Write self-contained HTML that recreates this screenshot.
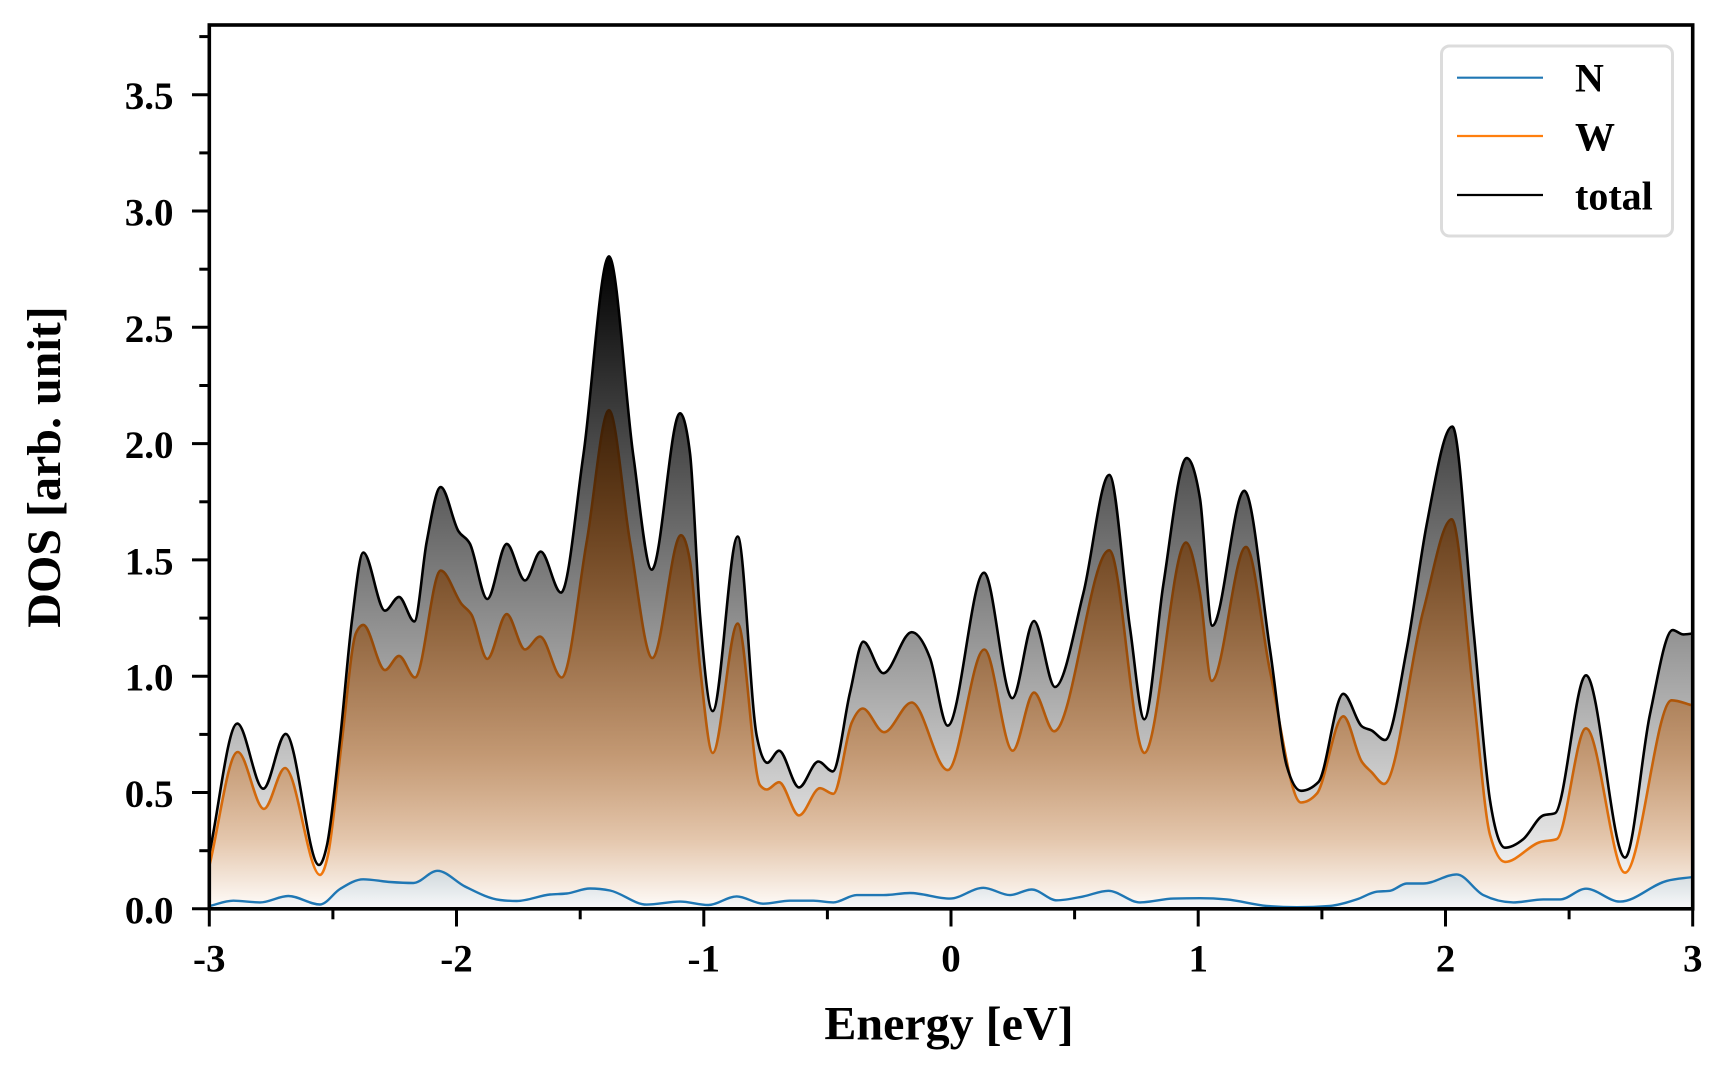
<!DOCTYPE html>
<html><head><meta charset="utf-8">
<style>
html,body{margin:0;padding:0;background:#fff;}
svg{display:block;}
text{font-family:"Liberation Serif","Times New Roman",serif;font-weight:bold;fill:#000;}
</style></head><body>
<svg id="s" width="1728" height="1080" viewBox="0 0 1728 1080" xmlns="http://www.w3.org/2000/svg">
<defs>
 <linearGradient id="gT" gradientUnits="userSpaceOnUse" x1="0" y1="908.8" x2="0" y2="257.5">
  <stop offset="0" stop-color="#000" stop-opacity="0"/>
  <stop offset="1" stop-color="#000" stop-opacity="1"/>
 </linearGradient>
 <linearGradient id="gW" gradientUnits="userSpaceOnUse" x1="0" y1="908.8" x2="0" y2="408.7">
  <stop offset="0" stop-color="#ff7f0e" stop-opacity="0"/>
  <stop offset="0.014" stop-color="#ff7f0e" stop-opacity="0.04"/>
  <stop offset="0.079" stop-color="#ff7f0e" stop-opacity="0.15"/>
  <stop offset="0.14" stop-color="#ff7f0e" stop-opacity="0.26"/>
  <stop offset="0.307" stop-color="#ff7f0e" stop-opacity="0.43"/>
  <stop offset="0.474" stop-color="#ff7f0e" stop-opacity="0.53"/>
  <stop offset="0.647" stop-color="#ff7f0e" stop-opacity="0.66"/>
  <stop offset="0.814" stop-color="#ff7f0e" stop-opacity="0.78"/>
  <stop offset="0.981" stop-color="#ff7f0e" stop-opacity="0.88"/>
  <stop offset="1" stop-color="#ff7f0e" stop-opacity="0.9"/>
 </linearGradient>
 <linearGradient id="gWl" gradientUnits="userSpaceOnUse" x1="0" y1="908.8" x2="0" y2="408.7">
  <stop offset="0" stop-color="#ff7f0e"/>
  <stop offset="1" stop-color="#3b1d03"/>
 </linearGradient>
 <linearGradient id="gN" gradientUnits="userSpaceOnUse" x1="0" y1="908.8" x2="0" y2="870">
  <stop offset="0" stop-color="#f8f9fa"/>
  <stop offset="1" stop-color="#d0d8dc"/>
 </linearGradient>
 <clipPath id="cp"><rect x="209.3" y="25" width="1483.4" height="883.8"/></clipPath>
</defs>

<g clip-path="url(#cp)">
 <path id="fW" fill="url(#gW)" stroke="none"/>
 <path id="fT" fill="url(#gT)" stroke="none"/>
 <path id="fN" fill="url(#gN)" stroke="none"/>
 <path id="lN" fill="none" stroke="#1f77b4" stroke-width="2.4" stroke-linejoin="round"/>
 <path id="lW" fill="none" stroke="url(#gWl)" stroke-width="2.6" stroke-linejoin="round"/>
 <path id="lT" fill="none" stroke="#000" stroke-width="2.6" stroke-linejoin="round"/>
</g>

<!-- axes frame -->
<rect x="209.3" y="25" width="1483.4" height="883.8" fill="none" stroke="#000" stroke-width="3.6"/>

<!-- x ticks -->
<g stroke="#000" stroke-width="3">
 <line x1="209.3" y1="908.8" x2="209.3" y2="926.5"/>
 <line x1="456.5" y1="908.8" x2="456.5" y2="926.5"/>
 <line x1="703.8" y1="908.8" x2="703.8" y2="926.5"/>
 <line x1="951" y1="908.8" x2="951" y2="926.5"/>
 <line x1="1198.2" y1="908.8" x2="1198.2" y2="926.5"/>
 <line x1="1445.5" y1="908.8" x2="1445.5" y2="926.5"/>
 <line x1="1692.7" y1="908.8" x2="1692.7" y2="926.5"/>
 <line x1="332.9" y1="908.8" x2="332.9" y2="919.3"/>
 <line x1="580.2" y1="908.8" x2="580.2" y2="919.3"/>
 <line x1="827.4" y1="908.8" x2="827.4" y2="919.3"/>
 <line x1="1074.6" y1="908.8" x2="1074.6" y2="919.3"/>
 <line x1="1321.9" y1="908.8" x2="1321.9" y2="919.3"/>
 <line x1="1569.1" y1="908.8" x2="1569.1" y2="919.3"/>
</g>
<!-- y ticks -->
<g stroke="#000" stroke-width="3">
 <line x1="192" y1="908.8" x2="209.3" y2="908.8"/>
 <line x1="192" y1="792.5" x2="209.3" y2="792.5"/>
 <line x1="192" y1="676.2" x2="209.3" y2="676.2"/>
 <line x1="192" y1="559.9" x2="209.3" y2="559.9"/>
 <line x1="192" y1="443.6" x2="209.3" y2="443.6"/>
 <line x1="192" y1="327.3" x2="209.3" y2="327.3"/>
 <line x1="192" y1="211" x2="209.3" y2="211"/>
 <line x1="192" y1="94.7" x2="209.3" y2="94.7"/>
 <line x1="199.3" y1="850.7" x2="209.3" y2="850.7"/>
 <line x1="199.3" y1="734.4" x2="209.3" y2="734.4"/>
 <line x1="199.3" y1="618.1" x2="209.3" y2="618.1"/>
 <line x1="199.3" y1="501.8" x2="209.3" y2="501.8"/>
 <line x1="199.3" y1="385.5" x2="209.3" y2="385.5"/>
 <line x1="199.3" y1="269.2" x2="209.3" y2="269.2"/>
 <line x1="199.3" y1="152.9" x2="209.3" y2="152.9"/>
 <line x1="199.3" y1="36.6" x2="209.3" y2="36.6"/>
</g>

<!-- y tick labels -->
<g font-size="39" text-anchor="end">
 <text x="173.5" y="923.3">0.0</text>
 <text x="173.5" y="807">0.5</text>
 <text x="173.5" y="690.7">1.0</text>
 <text x="173.5" y="574.4">1.5</text>
 <text x="173.5" y="458.1">2.0</text>
 <text x="173.5" y="341.8">2.5</text>
 <text x="173.5" y="225.5">3.0</text>
 <text x="173.5" y="109.2">3.5</text>
</g>
<!-- x tick labels -->
<g font-size="39" text-anchor="middle">
 <text x="209.3" y="971.5">-3</text>
 <text x="456.5" y="971.5">-2</text>
 <text x="703.8" y="971.5">-1</text>
 <text x="951" y="971.5">0</text>
 <text x="1198.2" y="971.5">1</text>
 <text x="1445.5" y="971.5">2</text>
 <text x="1692.7" y="971.5">3</text>
</g>

<!-- axis labels -->
<text x="949" y="1039.5" font-size="48" text-anchor="middle">Energy [eV]</text>
<text transform="translate(60,467) rotate(-90)" x="0" y="0" font-size="48" text-anchor="middle">DOS [arb. unit]</text>

<!-- legend -->
<rect x="1441.5" y="46" width="231" height="190" rx="8" ry="8" fill="#fff" fill-opacity="0.85" stroke="#dcdcdc" stroke-width="3"/>
<line x1="1457" y1="77.7" x2="1543" y2="77.7" stroke="#1f77b4" stroke-width="2.2"/>
<line x1="1457" y1="136" x2="1543" y2="136" stroke="#ff7f0e" stroke-width="2.2"/>
<line x1="1457" y1="195" x2="1543" y2="195" stroke="#000" stroke-width="2.2"/>
<g font-size="40">
 <text x="1575" y="91.7">N</text>
 <text x="1575" y="150.5">W</text>
 <text x="1575" y="209.3">total</text>
</g>
</svg>

<script>
(function(){
var T=[[209.3,854],[237.3,723.6],[263.3,788.7],[285.7,733.9],[319,865],[327,845],[340,740],[352,620],[363.3,552.5],[385,610.7],[399,596.9],[414.3,621.4],[426.7,541.7],[440.7,487],[458.3,530.9],[470,543.9],[487.3,599],[506.7,543.9],[525,580.5],[540.7,551.6],[561,592.6],[583.3,455.5],[609,256.4],[633.3,455.5],[651.7,569.7],[680,413.3],[690,453.3],[700,615],[712.7,711.1],[737.7,536.5],[756.7,735.7],[767.3,762.8],[779,750.7],[799,787.4],[818.3,761.5],[832.7,771.4],[850,692.6],[863.3,641.7],[883.3,673.2],[911.7,632.2],[930,658.1],[947.7,725.7],[984,572.7],[1012.3,698.2],[1034,621],[1055,687],[1083.3,593.4],[1109.3,474.9],[1130,627.9],[1144.3,719.3],[1163.3,584.8],[1186.7,458.1],[1200,498.6],[1212.3,625.7],[1244.3,490.8],[1270,649.5],[1286.7,765.8],[1301,790.8],[1318.3,782.2],[1343.3,693.8],[1361.7,726.2],[1371.7,730.5],[1385,740],[1406.7,649.5],[1426.7,524.5],[1452.3,426.6],[1473.3,627.9],[1490,800.3],[1505,847.7],[1523.3,839.1],[1543.3,815.4],[1555,813.2],[1586,675.3],[1625,857.6],[1650,714.1],[1672.7,630.1],[1683.3,634.4],[1692.7,633.5]];
var W=[[209.3,866],[237.7,752],[264,808.9],[285,768],[320,874.9],[328,855],[342,740],[356,633],[363.3,624.9],[385,670.1],[399,655.9],[415,677.5],[440.7,570.6],[461.7,604.2],[471.7,615],[487.3,658.9],[506.7,614.1],[525,649.5],[540,636.5],[561.7,677.5],[586.7,541.7],[609,410.2],[630,541.7],[652.3,658.1],[681,535.2],[690,561.1],[700,666.7],[712.7,752.9],[737.7,623.6],[760,785.2],[766.7,789.5],[779,782.2],[799,815.4],[820,788.2],[833.3,793.8],[851.7,722.7],[862.7,708.5],[884,732.2],[911.7,702.5],[947.7,770.1],[984.3,649.5],[1012.7,750.7],[1034,692.6],[1054,731.3],[1109.3,550.3],[1144.3,752.9],[1186,542.6],[1200,593.4],[1211.7,680.9],[1246,546.9],[1270,671],[1301,802.5],[1316.7,793.8],[1343.3,716.3],[1361.7,761.5],[1371.7,772.3],[1384,783.9],[1423.3,610.7],[1451.7,519.3],[1473.3,692.6],[1490,834.8],[1505,861.9],[1540,842.1],[1556.7,839.1],[1586,728.3],[1625,872.7],[1671.7,700.3],[1692.7,705.5]];
var N=[[209.3,906],[233.3,900.7],[260,902.4],[288.3,896],[320,904.5],[340,889],[363.3,879.3],[390,882],[413.3,883],[437.5,870.8],[465,886.5],[500,900],[516.7,901],[550,894.5],[566.7,893.5],[590,888.5],[610,890.5],[646.7,904.6],[680,901.6],[708.3,905],[736.7,896.4],[763.3,903.7],[790,900.7],[813.3,900.7],[833.3,902.4],[856.7,895.1],[883.3,895.1],[910,893],[950,898.6],[983.3,887.8],[1010,895.1],[1031.7,889.5],[1056.7,900.3],[1083.3,896.4],[1108.3,890.8],[1140,902.4],[1173.3,898.6],[1200,898.2],[1226.7,899.4],[1266.7,905.9],[1296.7,907.2],[1330,905.9],[1356.7,899.4],[1376.7,891.7],[1390,890.8],[1406.7,883.5],[1423.3,883.5],[1456.7,874.4],[1483.3,895.1],[1513.3,902.4],[1543.3,899.4],[1560,899.4],[1586,888.7],[1620,901.6],[1666.7,880.9],[1692.7,877]];
function sg(v){return v>0?1:(v<0?-1:0);}
function mono(p){
 var n=p.length,s=[],t=[],i;
 for(i=0;i<n-1;i++){s[i]=(p[i+1][1]-p[i][1])/(p[i+1][0]-p[i][0]);}
 for(i=1;i<n-1;i++){
  var h0=p[i][0]-p[i-1][0],h1=p[i+1][0]-p[i][0],s0=s[i-1],s1=s[i];
  var q=(s0*h1+s1*h0)/(h0+h1);
  t[i]=(sg(s0)+sg(s1))*Math.min(Math.abs(s0),Math.abs(s1),0.5*Math.abs(q))||0;
 }
 t[0]=s[0];t[n-1]=s[n-2];
 var d='M'+p[0][0]+','+p[0][1];
 for(i=0;i<n-1;i++){
  var h=(p[i+1][0]-p[i][0])/3;
  d+=' C'+(p[i][0]+h).toFixed(2)+','+(p[i][1]+h*t[i]).toFixed(2)+' '+(p[i+1][0]-h).toFixed(2)+','+(p[i+1][1]-h*t[i+1]).toFixed(2)+' '+p[i+1][0]+','+p[i+1][1];
 }
 return d;
}
var close=' L1692.7,908.8 L209.3,908.8 Z';
var dT=mono(T),dW=mono(W),dN=mono(N);
document.getElementById('fT').setAttribute('d',dT+close);
document.getElementById('fW').setAttribute('d',dW+close);
document.getElementById('fN').setAttribute('d',dN+close);
document.getElementById('lT').setAttribute('d',dT);
document.getElementById('lW').setAttribute('d',dW);
document.getElementById('lN').setAttribute('d',dN);
})();
</script>
</body></html>
